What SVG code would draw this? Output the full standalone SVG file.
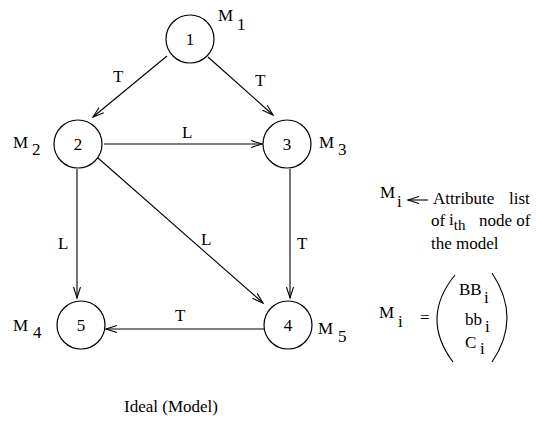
<svg xmlns="http://www.w3.org/2000/svg" width="536" height="430" viewBox="0 0 536 430">
<style>
text{font-family:"Liberation Serif","Times New Roman",serif;font-size:17px;fill:#000}
.n{text-anchor:middle}
circle{fill:#fff;stroke:#000;stroke-width:1.2}
.e{stroke:#000;stroke-width:1.1;fill:none;marker-end:url(#ah)}
</style>
<defs>
<marker id="ah" markerUnits="userSpaceOnUse" markerWidth="14" markerHeight="10" refX="11" refY="4" orient="auto">
<path d="M0,0.5 L11,4 L0,7.5" fill="none" stroke="#000" stroke-width="1.1"/>
</marker>
</defs>
<rect width="536" height="430" fill="#fff"/>
<g id="connectors">
<line class="e" x1="167" y1="56" x2="93" y2="117"/>
<line class="e" x1="208" y1="57" x2="273" y2="115"/>
<line class="e" x1="104" y1="144" x2="262" y2="144"/>
<line class="e" x1="77" y1="169" x2="77" y2="298"/>
<line class="e" x1="98" y1="158" x2="263" y2="303"/>
<line class="e" x1="290" y1="169" x2="290" y2="298"/>
<line class="e" x1="264" y1="329" x2="106" y2="329"/>
<text x="113" y="82">T</text>
<text x="255" y="86">T</text>
<text x="182" y="138">L</text>
<text x="58" y="249">L</text>
<text x="201" y="245">L</text>
<text x="297" y="249">T</text>
<text x="175" y="321">T</text>
</g>
<g id="node1"><circle cx="190" cy="39" r="24"/><text class="n" x="190" y="45">1</text><text x="218" y="21">M<tspan x="237" dy="9">1</tspan></text></g>
<g id="node2"><circle cx="78" cy="144" r="24"/><text class="n" x="78" y="150">2</text><text x="13" y="148">M<tspan x="32" dy="7">2</tspan></text></g>
<g id="node3"><circle cx="287" cy="144" r="24"/><text class="n" x="287" y="150">3</text><text x="319" y="148">M<tspan x="338" dy="7">3</tspan></text></g>
<g id="node5"><circle cx="81" cy="325" r="24"/><text class="n" x="81" y="331">5</text><text x="13" y="331">M<tspan x="33" dy="7">4</tspan></text></g>
<g id="node4"><circle cx="288" cy="325" r="24"/><text class="n" x="288" y="331">4</text><text x="318" y="334">M<tspan x="338" dy="8">5</tspan></text></g>
<g id="legend">
<text x="380" y="198">M<tspan x="397" dy="9">i</tspan></text>
<line class="e" x1="428" y1="200" x2="408" y2="200"/>
<text x="433" y="204">Attribute</text>
<text x="509" y="204">list</text>
<text x="431" y="226">of</text>
<text x="449" y="225">i<tspan dy="5" style="font-size:15px">th</tspan></text>
<text x="479" y="226">node of</text>
<text x="431" y="249">the model</text>
<text x="379" y="318">M<tspan x="398" dy="9">i</tspan></text>
<text x="420" y="323">=</text>
<path d="M455,275 Q420,318 453,362" fill="none" stroke="#000" stroke-width="1.1"/>
<path d="M492,273 Q522,318 492,362" fill="none" stroke="#000" stroke-width="1.1"/>
<text x="459" y="295">BB<tspan x="484" dy="8">i</tspan></text>
<text x="465" y="325">bb<tspan x="485" dy="7">i</tspan></text>
<text x="465" y="348">C<tspan x="480" dy="6">i</tspan></text>
</g>
<text x="124" y="412">Ideal (Model)</text>
</svg>
